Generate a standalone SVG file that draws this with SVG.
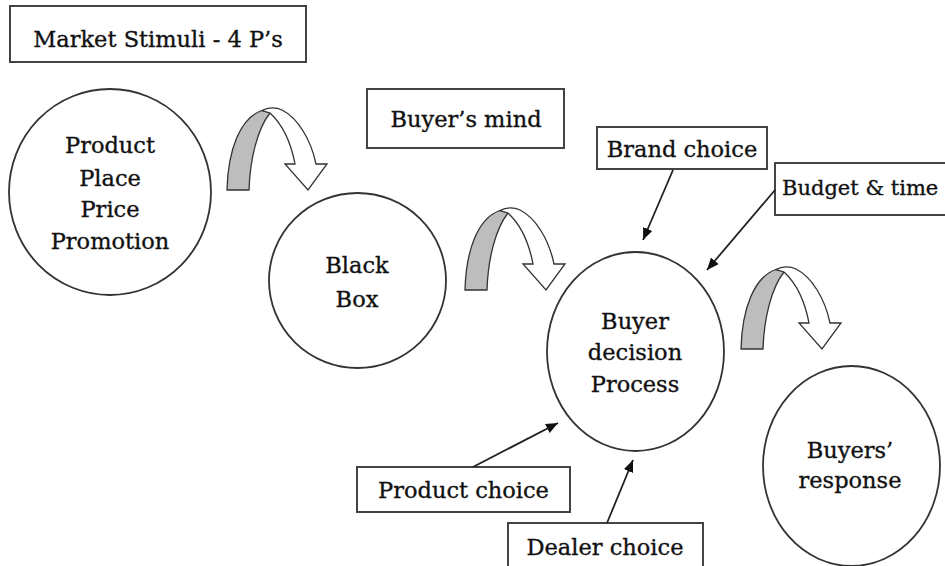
<svg xmlns="http://www.w3.org/2000/svg" xmlns:xlink="http://www.w3.org/1999/xlink" width="945" height="566" viewBox="0 0 945 566">
<style>
.box{fill:#fff;stroke:#444;stroke-width:2}
.node{fill:#fff;stroke:#333;stroke-width:1.8}
.t{font-family:"DejaVu Serif","Liberation Serif",serif;font-size:22.5px;fill:#111;stroke:#111;stroke-width:0.35;text-anchor:middle}
.ts{text-anchor:start;font-size:21px}
.conn{stroke:#222;stroke-width:1.8;fill:none;marker-end:url(#ah)}
.gray{fill:#bdbdbd;stroke:#333;stroke-width:1.3}
.white{fill:#fff;stroke:#333;stroke-width:1.3}
</style>
<defs>
<marker id="ah" viewBox="0 0 12 10" refX="12" refY="5" markerWidth="12" markerHeight="10" markerUnits="userSpaceOnUse" orient="auto">
<path d="M0,0 L12,5 L0,10 Z" fill="#111"/>
</marker>
<g id="curved">
<path class="gray" d="M227,190 C228,150 240,118 262,110.5 L270,113 C258,128 250,158 249,190 Z"/>
<path class="white" d="M262,110.5 C268,107 276,107 282,110 C298,118 311,140 316,164 L327,164 L308,190 L285,164 L295,164 C291,143 282,124 270,113 Z"/>
</g>
</defs>
<rect width="945" height="566" fill="#fff"/>

<g id="market-stimuli">
<rect class="box" x="10" y="6" width="296" height="56"/>
<text class="t" x="158" y="47">Market Stimuli - 4 P’s</text>
</g>

<g id="buyers-mind">
<rect class="box" x="367" y="89" width="197" height="59"/>
<text class="t" x="466" y="127">Buyer’s mind</text>
</g>

<g id="four-ps">
<ellipse class="node" cx="110" cy="192" rx="101" ry="103"/>
<text class="t" x="110" y="153">Product</text>
<text class="t" x="110" y="186">Place</text>
<text class="t" x="110" y="217">Price</text>
<text class="t" x="110" y="249">Promotion</text>
</g>

<g id="black-box">
<ellipse class="node" cx="357.5" cy="280.5" rx="88.5" ry="87.5"/>
<text class="t" x="357" y="273">Black</text>
<text class="t" x="357" y="307">Box</text>
</g>

<g id="buyer-decision">
<ellipse class="node" cx="635.5" cy="351.5" rx="88.5" ry="99.5"/>
<text class="t" x="635" y="329">Buyer</text>
<text class="t" x="635" y="360">decision</text>
<text class="t" x="635" y="392">Process</text>
</g>

<g id="buyers-response">
<ellipse class="node" cx="851.5" cy="466" rx="88.5" ry="100"/>
<text class="t" x="850" y="458">Buyers’</text>
<text class="t" x="850" y="488">response</text>
</g>

<g id="brand-choice">
<rect class="box" x="597" y="127" width="170" height="42"/>
<text class="t" x="682" y="157">Brand choice</text>
</g>

<g id="budget-time">
<rect class="box" x="775" y="163" width="180" height="52"/>
<text class="t ts" x="782" y="195">Budget &amp; time</text>
</g>

<g id="product-choice">
<rect class="box" x="357" y="467" width="213" height="45"/>
<text class="t" x="463.5" y="498">Product choice</text>
</g>

<g id="dealer-choice">
<rect class="box" x="508" y="523" width="195" height="50"/>
<text class="t" x="605" y="555">Dealer choice</text>
</g>

<g id="connectors">
<use xlink:href="#curved"/>
<use xlink:href="#curved" transform="translate(238,100)"/>
<use xlink:href="#curved" transform="translate(514,159)"/>
<line class="conn" x1="673" y1="170" x2="643" y2="240"/>
<line class="conn" x1="775" y1="190" x2="707" y2="270"/>
<line class="conn" x1="473" y1="467" x2="558" y2="423"/>
<line class="conn" x1="607" y1="523" x2="633" y2="460"/>
</g>
</svg>
